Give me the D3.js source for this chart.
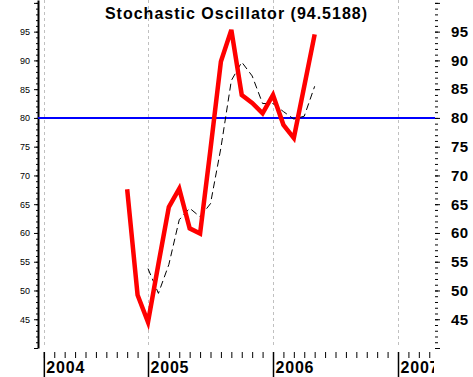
<!DOCTYPE html>
<html>
<head>
<meta charset="utf-8">
<script src="https://cdn.jsdelivr.net/npm/d3@7"></script>
<style>
  body { margin: 0; background: #fff; }
  svg { display: block; font-family: "Liberation Sans", Arial, sans-serif; }
</style>
</head>
<body>
<script>
// month index: 0 = Jan 2004
var kStart = 10;   // Nov 2004
var kValues = [67.6, 49.2, 44.5, 54.6, 64.5, 67.7, 60.8, 59.9, 74.6, 89.8,
               95.3, 84.0, 82.6, 80.8, 84.0, 78.8, 76.5, 85.5, 94.5188];
var dStart = 12;   // Jan 2005
var dValues = [53.8, 49.5, 54.5, 62.3, 64.3, 62.8, 65.1, 74.8, 86.5, 89.7,
               87.3, 82.5, 82.5, 81.1, 79.8, 80.3, 85.5];
var yearLabels = ["2004", "2005", "2006", "2007"];
var yearIdx = [2, 12, 24, 36];
var refLevel = 80;
var title = "Stochastic Oscillator (94.5188)";

var width = 473, height = 377;
var plotLeft = 38, plotRight = 435, plotTop = 0, plotBottom = 348;

var svg = d3.select('body').append('svg')
    .attr('width', width)
    .attr('height', height);

var xScale = d3.scaleLinear().domain([12, 24]).range([148, 273]);
var yScale = d3.scaleLinear().domain([40, 100.5]).range([plotBottom, plotTop]);

var maxMonth = Math.floor(xScale.invert(plotRight));
var months = d3.range(2, maxMonth + 1);

svg.append('defs').append('clipPath').attr('id', 'clipx')
  .append('rect').attr('x', 0).attr('y', 0).attr('width', 434).attr('height', height);

// grid
svg.append('g').selectAll('line').data(yearIdx).enter().append('line')
    .attr('x1', function(d) { return Math.round(xScale(d)) + 0.5; })
    .attr('x2', function(d) { return Math.round(xScale(d)) + 0.5; })
    .attr('y1', 0).attr('y2', plotBottom)
    .attr('stroke', '#c0c0c0')
    .attr('stroke-dasharray', '3,3');

// left axis
var leftMinor = d3.axisLeft(yScale).tickValues(d3.range(40, 101, 1)).tickSize(2).tickFormat('');
var leftMajor = d3.axisLeft(yScale).tickValues(d3.range(40, 101, 5)).tickSize(4).tickSizeOuter(0)
    .tickFormat(function(d) { return (d == 40 || d == 100) ? '' : d; });
var gl1 = svg.append('g').attr('transform', 'translate(' + plotLeft + ',0)').call(leftMinor);
gl1.select('.domain').remove();
var gl2 = svg.append('g').attr('transform', 'translate(' + plotLeft + ',0)').call(leftMajor);
gl2.select('.domain').attr('stroke-width', 2);
gl2.selectAll('text').attr('font-size', 9).attr('x', -8).attr('fill', '#000');

// right axis
var rightMinor = d3.axisRight(yScale).tickValues(d3.range(40, 101, 1)).tickSize(3).tickFormat('');
var rightMajor = d3.axisRight(yScale).tickValues(d3.range(40, 101, 5)).tickSize(5)
    .tickFormat(function(d) { return (d == 40 || d == 100) ? '' : d; });
var gr1 = svg.append('g').attr('transform', 'translate(' + plotRight + ',0)').call(rightMinor);
gr1.select('.domain').remove();
var gr2 = svg.append('g').attr('transform', 'translate(' + plotRight + ',0)').call(rightMajor);
gr2.select('.domain').remove();
gr2.selectAll('text').attr('font-size', 15).attr('font-weight', 'bold')
    .attr('x', 16).attr('letter-spacing', 0.5).attr('fill', '#000');

// bottom axis: month ticks
var xMinor = d3.axisBottom(xScale).tickValues(months).tickSize(6).tickFormat('');
var gx1 = svg.append('g').attr('transform', 'translate(0,352)').call(xMinor);
gx1.select('.domain').remove();
var xMajor = d3.axisBottom(xScale).tickValues(yearIdx).tickSize(26)
    .tickFormat(function(d, i) { return yearLabels[i]; });
var gx2 = svg.append('g').attr('transform', 'translate(0,352)')
    .attr('clip-path', 'url(#clipx)').call(xMajor);
gx2.select('.domain').remove();
gx2.selectAll('line').attr('stroke-width', 1.5);
gx2.selectAll('text').attr('font-size', 16).attr('font-weight', 'bold')
    .attr('letter-spacing', 0.8).attr('fill', '#000')
    .attr('text-anchor', 'start').attr('x', 2).attr('y', 21).attr('dy', 0);

// reference line
svg.append('line')
    .attr('x1', plotLeft).attr('x2', plotRight)
    .attr('y1', yScale(refLevel)).attr('y2', yScale(refLevel))
    .attr('stroke', '#0000ff').attr('stroke-width', 2);

// %D dashed
var dLine = d3.line()
    .x(function(d, i) { return xScale(dStart + i); })
    .y(function(d) { return yScale(d); });
svg.append('path')
    .attr('fill', 'none').attr('stroke', '#000').attr('stroke-width', 1)
    .attr('stroke-dasharray', '7,4')
    .attr('d', dLine(dValues));

// %K red
var kLine = d3.line()
    .x(function(d, i) { return xScale(kStart + i); })
    .y(function(d) { return yScale(d); });
svg.append('path')
    .attr('fill', 'none').attr('stroke', '#ff0000').attr('stroke-width', 4.5)
    .attr('d', kLine(kValues));

// title
svg.append('text')
    .attr('x', (plotLeft + plotRight) / 2).attr('y', 19)
    .attr('text-anchor', 'middle')
    .attr('font-size', 16).attr('font-weight', 'bold').attr('letter-spacing', 1)
    .text(title);
</script>
</body>
</html>
